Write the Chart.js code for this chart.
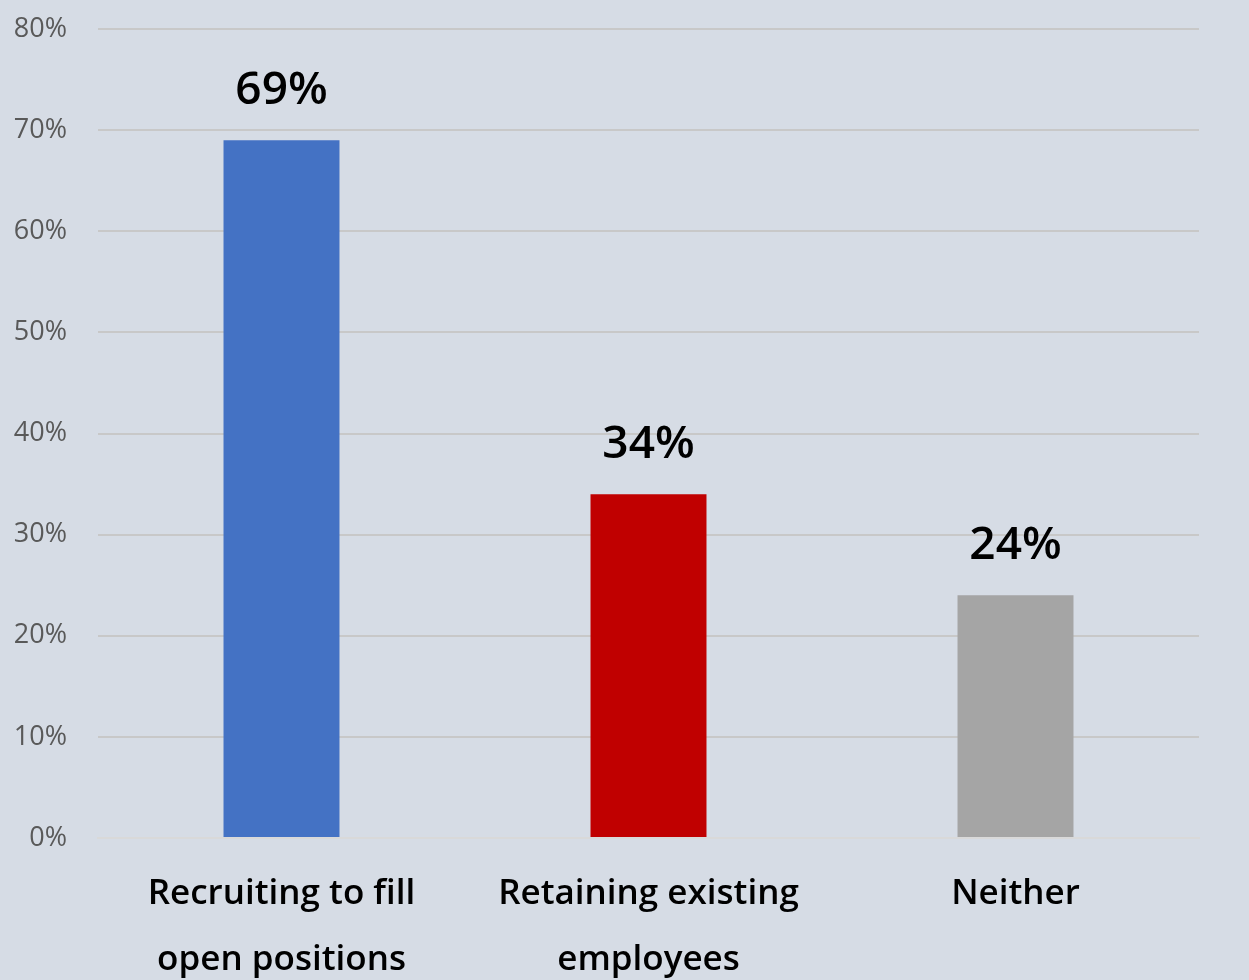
<!DOCTYPE html>
<html>
<head>
<meta charset="utf-8">
<script src="https://cdn.jsdelivr.net/npm/chart.js@4/dist/chart.umd.min.js"></script>
<style>
  html, body { margin: 0; padding: 0; background: #d6dce5; }
  #wrap { width: 1249px; height: 980px; }
</style>
</head>
<body>
<div id="wrap"><canvas id="barChart" width="1249" height="980"></canvas></div>
<script>
// Chart data
const categories = [["Recruiting to fill", "open positions"], ["Retaining existing", "employees"], ["Neither"]];
const shares = [69, 34, 24];
const barColors = ["#4472c4", "#c00000", "#a5a5a5"];
const yTicks = [0, 10, 20, 30, 40, 50, 60, 70, 80];

const FONT = "'Open Sans', 'Noto Sans', sans-serif";

// draws the value above each bar
const valueLabels = {
    id: "valueLabels",
    afterDatasetsDraw(chart) {
        const ctx = chart.ctx;
        const meta = chart.getDatasetMeta(0);
        ctx.save();
        ctx.font = "600 46px " + FONT;
        ctx.fillStyle = "#000";
        ctx.textAlign = "center";
        ctx.textBaseline = "middle";
        meta.data.forEach((bar, i) => {
            ctx.fillText(shares[i] + "%", bar.x, bar.y - 49);
        });
        ctx.restore();
    }
};

new Chart(document.getElementById("barChart"), {
    type: "bar",
    data: {
        labels: categories,
        datasets: [{
            data: shares,
            backgroundColor: barColors,
            borderWidth: 0,
            barPercentage: 0.316,
            categoryPercentage: 1
        }]
    },
    options: {
        responsive: false,
        animation: false,
        layout: { padding: { top: 29, right: 50, left: 0, bottom: 0 } },
        plugins: {
            legend: { display: false },
            tooltip: { enabled: false }
        },
        scales: {
            x: {
                grid: { display: false, drawTicks: false },
                border: { display: true, color: "#d9d9d9", width: 2 },
                ticks: {
                    color: "#000",
                    padding: 23,
                    maxRotation: 0,
                    font: { family: FONT, size: 35, weight: "600", lineHeight: 1.89 }
                },
                afterFit(scale) {
                    scale.height = 142;
                    scale.paddingLeft = 0;
                    scale.paddingRight = 0;
                }
            },
            y: {
                min: 0,
                max: 80,
                afterBuildTicks(scale) { scale.ticks = yTicks.map(v => ({ value: v })); },
                grid: { color: "#c8c8c8", lineWidth: 2, drawTicks: false },
                border: { display: false },
                ticks: {
                    color: "#595959",
                    padding: 31,
                    font: { family: FONT, size: 27 },
                    callback: v => v + "%"
                },
                afterFit(scale) {
                    scale.width = 98;
                    scale.paddingTop = 0;
                    scale.paddingBottom = 0;
                }
            }
        }
    },
    plugins: [valueLabels]
});
</script>
</body>
</html>
